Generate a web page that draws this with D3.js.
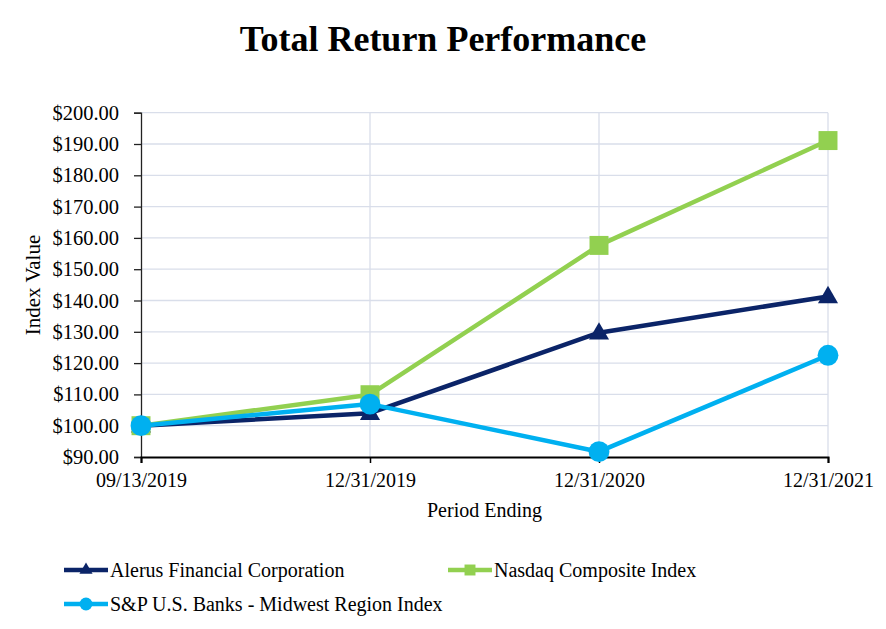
<!DOCTYPE html>
<html>
<head>
<meta charset="utf-8">
<script src="https://cdn.jsdelivr.net/npm/d3@7"></script>
<style>
  html, body { margin: 0; padding: 0; background: #fff; }
  svg { display: block; font-family: "Liberation Serif", "Times New Roman", serif; }
</style>
</head>
<body>
<svg id="chart" width="886" height="629"></svg>
<script>
const periods = ["09/13/2019", "12/31/2019", "12/31/2020", "12/31/2021"];
const alerus = [100.00, 104.0, 129.7, 141.3];
const nasdaq = [100.00, 109.9, 157.6, 191.1];
const spBanks = [100.00, 106.9, 91.7, 122.5];
const yTicks = [90, 100, 110, 120, 130, 140, 150, 160, 170, 180, 190, 200];
const seriesNames = ["Alerus Financial Corporation", "Nasdaq Composite Index", "S&P U.S. Banks - Midwest Region Index"];
const seriesColors = ["#0B2468", "#92D050", "#00B0F0"];
const seriesSymbols = ["triangle", "square", "circle"];

const series = [
  { name: seriesNames[0], values: alerus, color: seriesColors[0], symbol: seriesSymbols[0] },
  { name: seriesNames[1], values: nasdaq, color: seriesColors[1], symbol: seriesSymbols[1] },
  { name: seriesNames[2], values: spBanks, color: seriesColors[2], symbol: seriesSymbols[2] }
];

const svg = d3.select("#chart");
const pLeft = 141, pRight = 828, pTop = 112.7, pBottom = 457;
const serif = "Liberation Serif, serif";

const x = d3.scalePoint().domain(periods).range([pLeft, pRight]);
const y = d3.scaleLinear().domain([90, 200]).range([pBottom, pTop]);

// Title
svg.append("text").attr("x", 443).attr("y", 51).attr("text-anchor", "middle")
  .attr("font-size", 36).attr("font-weight", "bold").attr("fill", "#000")
  .text("Total Return Performance");

// Gridlines
svg.append("g").selectAll("line").data(yTicks.slice(1)).join("line")
  .attr("x1", pLeft).attr("x2", pRight)
  .attr("y1", d => y(d)).attr("y2", d => y(d))
  .attr("stroke", "#D9DEEA").attr("stroke-width", 1.3);
svg.append("g").selectAll("line").data(periods.slice(1)).join("line")
  .attr("x1", d => x(d)).attr("x2", d => x(d))
  .attr("y1", pTop).attr("y2", pBottom)
  .attr("stroke", "#D9DEEA").attr("stroke-width", 1.3);

// Y axis
const yAxis = svg.append("g").attr("transform", `translate(${pLeft},0)`)
  .call(d3.axisLeft(y).tickValues(yTicks).tickSize(7).tickPadding(15)
    .tickFormat(d => "$" + d3.format(".2f")(d)));
yAxis.select(".domain").attr("stroke", "#222").attr("stroke-width", 1.3);
yAxis.selectAll(".tick line").attr("stroke", "#222").attr("stroke-width", 1.3);
yAxis.selectAll(".tick text").attr("font-size", 20.5).attr("fill", "#000")
  .attr("font-family", serif);

// X axis
const xAxis = svg.append("g").attr("transform", `translate(0,${pBottom})`)
  .call(d3.axisBottom(x).tickSize(6).tickPadding(10));
xAxis.select(".domain").attr("stroke", "#000").attr("stroke-width", 2);
xAxis.selectAll(".tick line").attr("stroke", "#000").attr("stroke-width", 1.5);
xAxis.selectAll(".tick text").attr("font-size", 20).attr("fill", "#000")
  .attr("font-family", serif);

// Axis titles
svg.append("text").attr("x", (pLeft + pRight) / 2).attr("y", 517).attr("text-anchor", "middle")
  .attr("font-size", 20).attr("fill", "#000").text("Period Ending");
svg.append("text").attr("transform", "translate(40,285) rotate(-90)").attr("text-anchor", "middle")
  .attr("font-size", 21).attr("fill", "#000").text("Index Value");

// Symbols
const symMap = {
  triangle: d3.symbol().type(d3.symbolTriangle).size(175),
  square: d3.symbol().type(d3.symbolSquare).size(360),
  circle: d3.symbol().type(d3.symbolCircle).size(340)
};
const legSymMap = {
  triangle: d3.symbol().type(d3.symbolTriangle).size(75),
  square: d3.symbol().type(d3.symbolSquare).size(120),
  circle: d3.symbol().type(d3.symbolCircle).size(130)
};

const line = d3.line().x((d, i) => x(periods[i])).y(d => y(d));

series.forEach(s => {
  const g = svg.append("g");
  g.append("path").datum(s.values).attr("d", line)
    .attr("fill", "none").attr("stroke", s.color).attr("stroke-width", 4.5)
    .attr("stroke-linejoin", "round");
  g.selectAll("path.m").data(s.values).join("path").attr("class", "m")
    .attr("transform", (d, i) => `translate(${x(periods[i])},${y(d) + (s.symbol === "triangle" ? 1 : 0)})`)
    .attr("d", symMap[s.symbol]()).attr("fill", s.color);
});

// Legend
const legendPos = [
  { lx: 64, ly: 570 },
  { lx: 448, ly: 570 },
  { lx: 64, ly: 604 }
];
series.forEach((s, i) => {
  const p = legendPos[i];
  const g = svg.append("g");
  g.append("line").attr("x1", p.lx).attr("x2", p.lx + 44).attr("y1", p.ly).attr("y2", p.ly)
    .attr("stroke", s.color).attr("stroke-width", 4.5);
  g.append("path").attr("transform", `translate(${p.lx + 22},${p.ly})`)
    .attr("d", legSymMap[s.symbol]()).attr("fill", s.color);
  g.append("text").attr("x", p.lx + 46).attr("y", p.ly).attr("dy", "0.35em")
    .attr("font-size", 20).attr("fill", "#000").text(s.name);
});
</script>
</body>
</html>
